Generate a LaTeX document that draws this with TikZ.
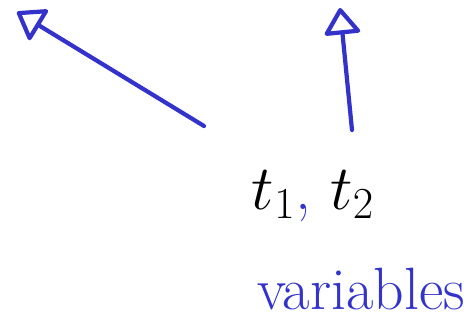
\documentclass[tikz,border=0pt]{standalone}
\usepackage{fix-cm}
\usetikzlibrary{arrows.meta}
\definecolor{penblue}{RGB}{51,51,204}

\begin{document}
\begin{tikzpicture}
  [x=0.02cm,y=-0.02cm,
   pen/.style={penblue,line width=2.4pt,line cap=round,line join=round,
     -{Triangle[open,round,length=16pt,width=22pt]}}]
  \useasboundingbox (0,0) rectangle (471,322);

  \coordinate (a1) at (204,126);
  \coordinate (h1) at (17,12);
  \coordinate (a2) at (352,130);
  \coordinate (h2) at (340,8);

  \node (tt) at (313,196) {\fontsize{36}{40}\selectfont $t_{1}$\textcolor{penblue}{,} $t_{2}$};
  \node[penblue] (var) at (361,289) {\fontsize{34}{38}\selectfont variables};

  \foreach \from/\to in {a1/h1,a2/h2}
    \draw[pen] (\from) -- (\to);

\end{tikzpicture}
\end{document}
